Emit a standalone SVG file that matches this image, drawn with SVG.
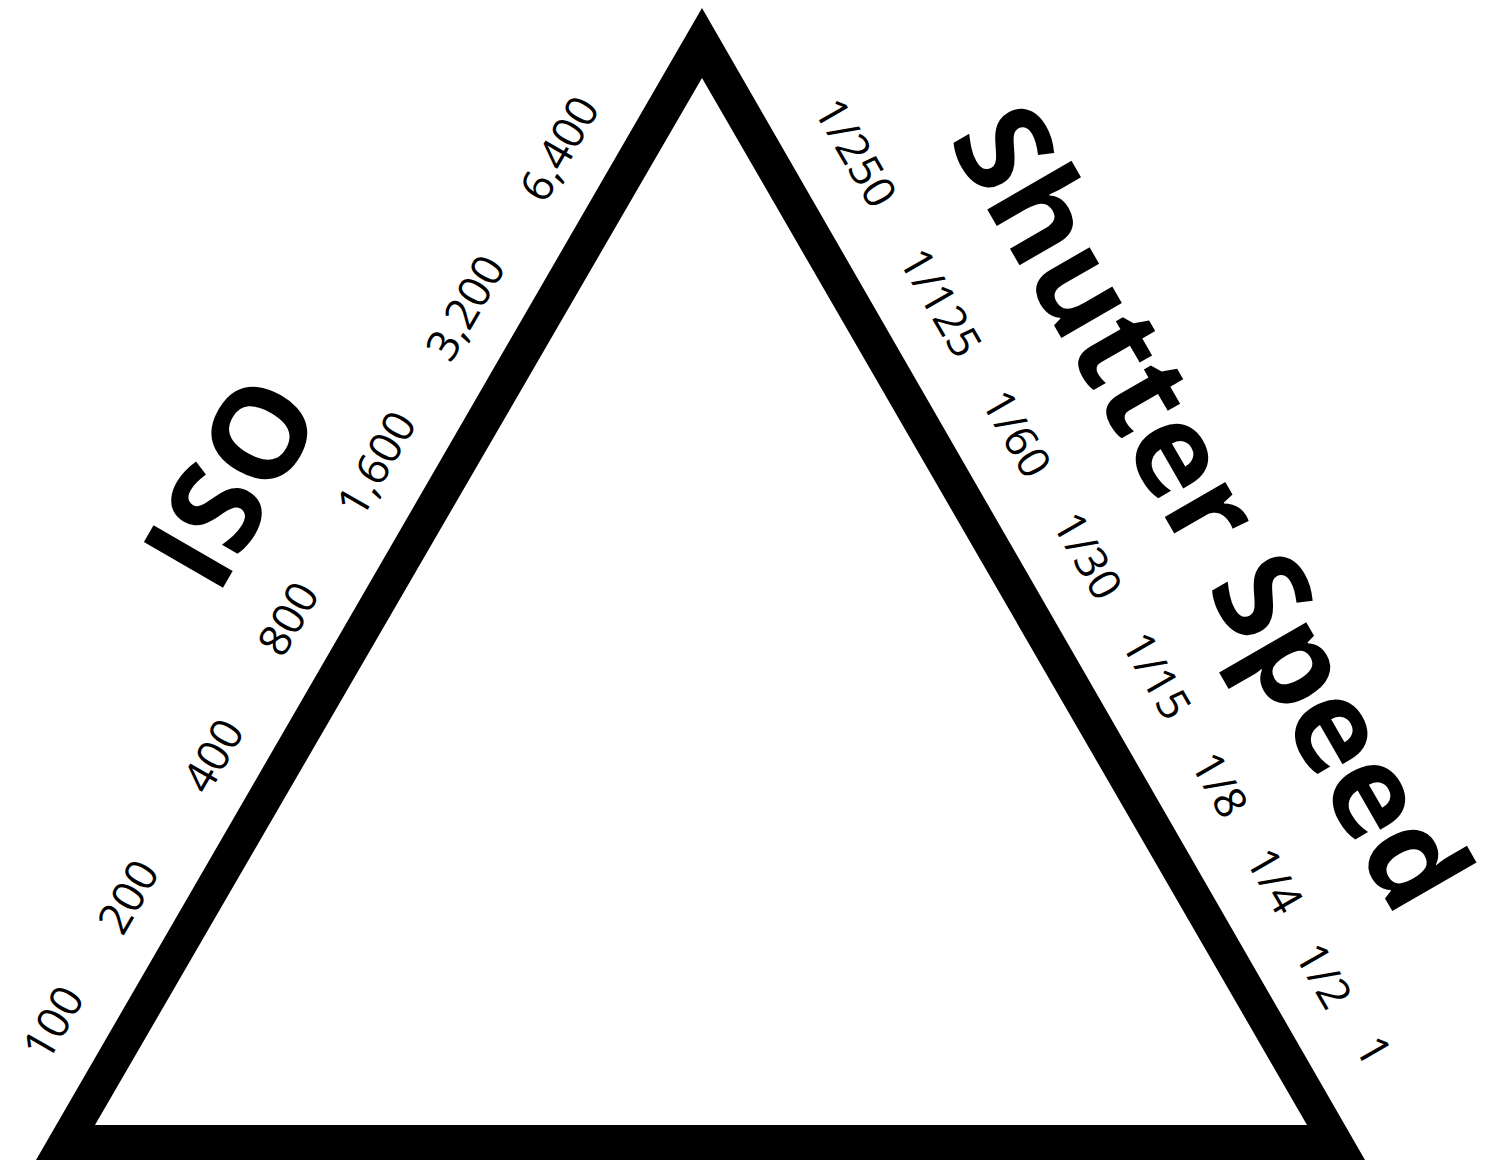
<svg xmlns="http://www.w3.org/2000/svg" width="1492" height="1166" viewBox="0 0 1492 1166">
<style>
.num{font-family:"Open Sans","Liberation Sans",sans-serif;font-size:44px;fill:#000;text-anchor:middle;dominant-baseline:central}
.ttl{font-family:"Open Sans","Liberation Sans",sans-serif;font-weight:bold;font-size:128px;fill:#000;text-anchor:middle;dominant-baseline:central}
</style>
<rect width="1492" height="1166" fill="#fff"/>
<g id="triangle">
<path d="M702,8 L1365,1160 L36,1160 Z M702,78 L95,1125 L1307,1125 Z" fill="#000" fill-rule="evenodd"/>
</g>
<g id="iso">
<text class="ttl" transform="translate(228,480) rotate(-60)">ISO</text>
<text class="num" transform="translate(52,1022) rotate(-60)">100</text>
<text class="num" transform="translate(127,896) rotate(-60)">200</text>
<text class="num" transform="translate(212,755) rotate(-60)">400</text>
<text class="num" transform="translate(287,618) rotate(-60)">800</text>
<text class="num" transform="translate(375,463) rotate(-60)">1,600</text>
<text class="num" transform="translate(464,307) rotate(-60)">3,200</text>
<text class="num" transform="translate(558,148) rotate(-60)">6,400</text>
</g>
<g id="shutter">
<text class="ttl" transform="translate(1215,505) rotate(60)">Shutter Speed</text>
<text class="num" transform="translate(857,152) rotate(60)">1/250</text>
<text class="num" transform="translate(942,302) rotate(60)">1/125</text>
<text class="num" transform="translate(1018,433) rotate(60)">1/60</text>
<text class="num" transform="translate(1089,555) rotate(60)">1/30</text>
<text class="num" transform="translate(1158,675) rotate(60)">1/15</text>
<text class="num" transform="translate(1221,784) rotate(60)">1/8</text>
<text class="num" transform="translate(1276,880) rotate(60)">1/4</text>
<text class="num" transform="translate(1325,975) rotate(60)">1/2</text>
<text class="num" transform="translate(1375,1050) rotate(60)">1</text>
</g>
</svg>
